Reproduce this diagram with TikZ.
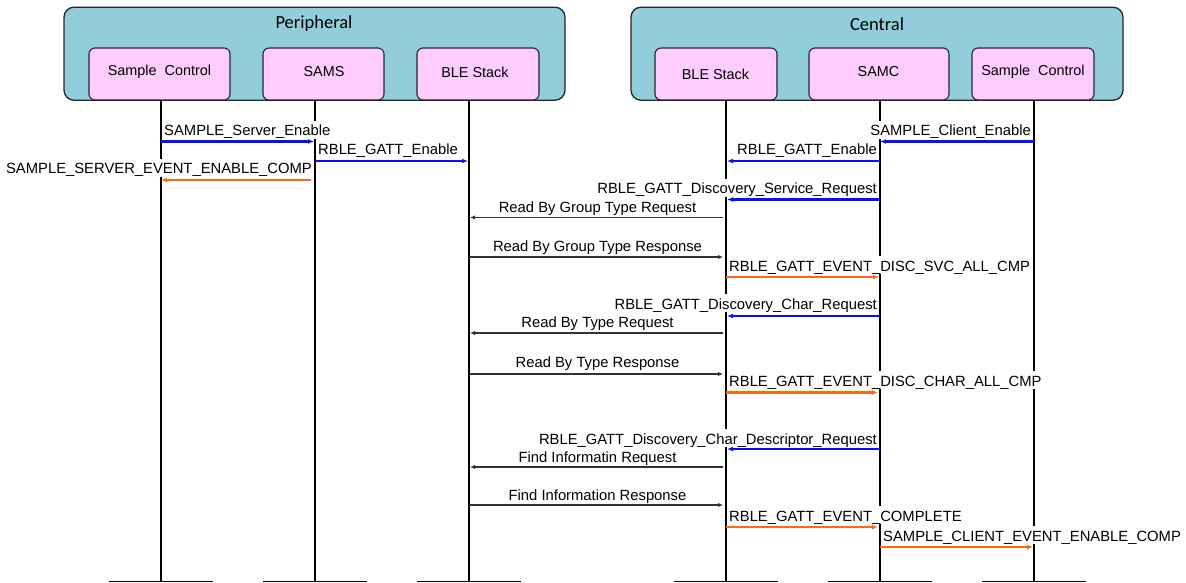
\documentclass[tikz,border=0pt]{standalone}
\usepackage{fontspec}
\setmainfont{Liberation Sans}
\newfontfamily\titlefont{Carlito}
\usetikzlibrary{arrows.meta}
\definecolor{groupfill}{HTML}{92CDDC}
\definecolor{compfill}{HTML}{FFCCFF}
\definecolor{reqblue}{HTML}{0A10F5}
\definecolor{evtorange}{HTML}{FF6A10}
\definecolor{pktgray}{HTML}{333333}
\begin{document}
\begin{tikzpicture}[x=1pt,y=-1pt,
  group/.style={draw=black!85, fill=groupfill, rounded corners=10pt, line width=1.3pt, inner sep=0pt},
  comp/.style={draw=black!85, fill=compfill, rounded corners=6pt, line width=1.1pt, inner sep=0pt, minimum height=52pt},
  ctext/.style={font=\fontsize{14.4}{16}\selectfont, inner sep=0pt},
  gtitle/.style={font=\titlefont\fontsize{18.5}{20}\selectfont, inner sep=0pt},
  life/.style={line width=2pt},
  foot/.style={line width=1.8pt},
  lbl/.style={font=\fontsize{14.8}{16}\selectfont, fill=white, inner xsep=1pt, inner ysep=0pt, text height=15pt, text depth=3pt},
  req/.style={draw=reqblue, line width=2.2pt, -{Latex[length=6pt,width=5pt]}},
  evt/.style={draw=evtorange, line width=2.2pt, -{Latex[length=6pt,width=5pt]}},
  pkt/.style={draw=pktgray, line width=1.3pt, -{Latex[length=5pt,width=4.5pt]}}
]
\useasboundingbox[fill=white] (0,0) rectangle (1186,583);

% group boxes
\node[group, minimum width=501pt, minimum height=93pt] (per) at (314.5,53.7) {};
\node[group, minimum width=492pt, minimum height=93pt] (cen) at (877,53.7) {};
\node[gtitle] (pertitle) at (314,24) {Peripheral};
\node[gtitle] (centitle) at (877,24) {Central};

% component boxes
\node[comp, minimum width=141pt] (pSC) at (159.5,74) {};
\node[comp, minimum width=121pt] (pSAMS) at (323.5,74) {};
\node[comp, minimum width=122pt] (pBLE) at (478,74) {};
\node[comp, minimum width=122pt] (cBLE) at (716,74) {};
\node[comp, minimum width=140pt] (cSAMC) at (879,74) {};
\node[comp, minimum width=122pt] (cSC) at (1033,74) {};
\node[ctext] (pSCl) at (159.5,72) {Sample\ \ Control};
\node[ctext] (pSAMSl) at (324,72) {SAMS};
\node[ctext] (pBLEl) at (475,72) {BLE Stack};
\node[ctext] (cBLEl) at (715.5,74.8) {BLE Stack};
\node[ctext] (cSAMCl) at (878.5,72) {SAMC};
\node[ctext] (cSCl) at (1033,72) {Sample\ \ Control};

% lifeline ends
\coordinate (a) at (161,100);   \coordinate (a2) at (161,581.5);
\coordinate (b) at (315,100);   \coordinate (b2) at (315,581.5);
\coordinate (c) at (469,100);   \coordinate (c2) at (469,581.5);
\coordinate (d) at (726,100);   \coordinate (d2) at (726,581.5);
\coordinate (e) at (880,100);   \coordinate (e2) at (880,581.5);
\coordinate (f) at (1034,100);  \coordinate (f2) at (1034,581.5);

\foreach \t/\u in {a/a2,b/b2,c/c2,d/d2,e/e2,f/f2}{
  \draw[life] (\t) -- (\u);
  \draw[foot] ([xshift=-52pt]\u) -- ([xshift=52pt]\u);
}

% labels
\node[lbl, anchor=base west] (m1) at (163,136) {SAMPLE\_Server\_Enable};
\node[lbl, anchor=base west] (m2) at (317,155) {RBLE\_GATT\_Enable};
\node[lbl, anchor=base east] (m3) at (313,174) {SAMPLE\_SERVER\_EVENT\_ENABLE\_COMP};
\node[lbl, anchor=base east] (m4) at (1032,136) {SAMPLE\_Client\_Enable};
\node[lbl, anchor=base east] (m5) at (878,155) {RBLE\_GATT\_Enable};
\node[lbl, anchor=base east] (m6) at (878,193.5) {RBLE\_GATT\_Discovery\_Service\_Request};
\node[lbl, anchor=base] (m7) at (597.5,212.5) {Read By Group Type Request};
\node[lbl, anchor=base] (m8) at (597.5,251) {Read By Group Type Response};
\node[lbl, anchor=base west] (m9) at (728,271) {RBLE\_GATT\_EVENT\_DISC\_SVC\_ALL\_CMP};
\node[lbl, anchor=base east] (m10) at (878,309) {RBLE\_GATT\_Discovery\_Char\_Request};
\node[lbl, anchor=base] (m11) at (597.5,327.5) {Read By Type Request};
\node[lbl, anchor=base] (m12) at (597.5,367) {Read By Type Response};
\node[lbl, anchor=base west] (m13) at (728,386) {RBLE\_GATT\_EVENT\_DISC\_CHAR\_ALL\_CMP};
\node[lbl, anchor=base east] (m14) at (878,444) {RBLE\_GATT\_Discovery\_Char\_Descriptor\_Request};
\node[lbl, anchor=base] (m15) at (597.5,462.5) {Find Informatin Request};
\node[lbl, anchor=base] (m16) at (597.5,500.5) {Find Information Response};
\node[lbl, anchor=base west] (m17) at (728,521) {RBLE\_GATT\_EVENT\_COMPLETE};
\node[lbl, anchor=base west] (m18) at (882,541) {SAMPLE\_CLIENT\_EVENT\_ENABLE\_COMP};

% arrows
\draw[req] (a |- 0,141.5) -- ([xshift=-1pt]b |- 0,141.5);
\draw[req] (b |- 0,161) -- ([xshift=-1pt]c |- 0,161);
\draw[evt] ([xshift=-4pt]b |- 0,180) -- (a |- 0,180);
\draw[req] (f |- 0,141.5) -- (e |- 0,141.5);
\draw[req] (e |- 0,161) -- ([xshift=1pt]d |- 0,161);
\draw[req] (e |- 0,199.5) -- ([xshift=1pt]d |- 0,199.5);
\draw[pkt] ([xshift=-3pt]d |- 0,217.5) -- ([xshift=1pt]c |- 0,217.5);
\draw[pkt] (c |- 0,257) -- ([xshift=-3pt]d |- 0,257);
\draw[evt] (d |- 0,277) -- ([xshift=-1pt]e |- 0,277);
\draw[req] (e |- 0,316) -- ([xshift=1pt]d |- 0,316);
\draw[pkt] ([xshift=-3pt]d |- 0,333) -- ([xshift=1pt]c |- 0,333);
\draw[pkt] (c |- 0,374) -- ([xshift=-3pt]d |- 0,374);
\draw[evt] (d |- 0,392.5) -- ([xshift=-2pt]e |- 0,392.5);
\draw[req] (e |- 0,449) -- ([xshift=1pt]d |- 0,449);
\draw[pkt] ([xshift=-3pt]d |- 0,467) -- ([xshift=1pt]c |- 0,467);
\draw[pkt] (c |- 0,505) -- ([xshift=-3pt]d |- 0,505);
\draw[evt] (d |- 0,527) -- ([xshift=-2pt]e |- 0,527);
\draw[evt] (e |- 0,547) -- ([xshift=-1pt]f |- 0,547);
\end{tikzpicture}
\end{document}
